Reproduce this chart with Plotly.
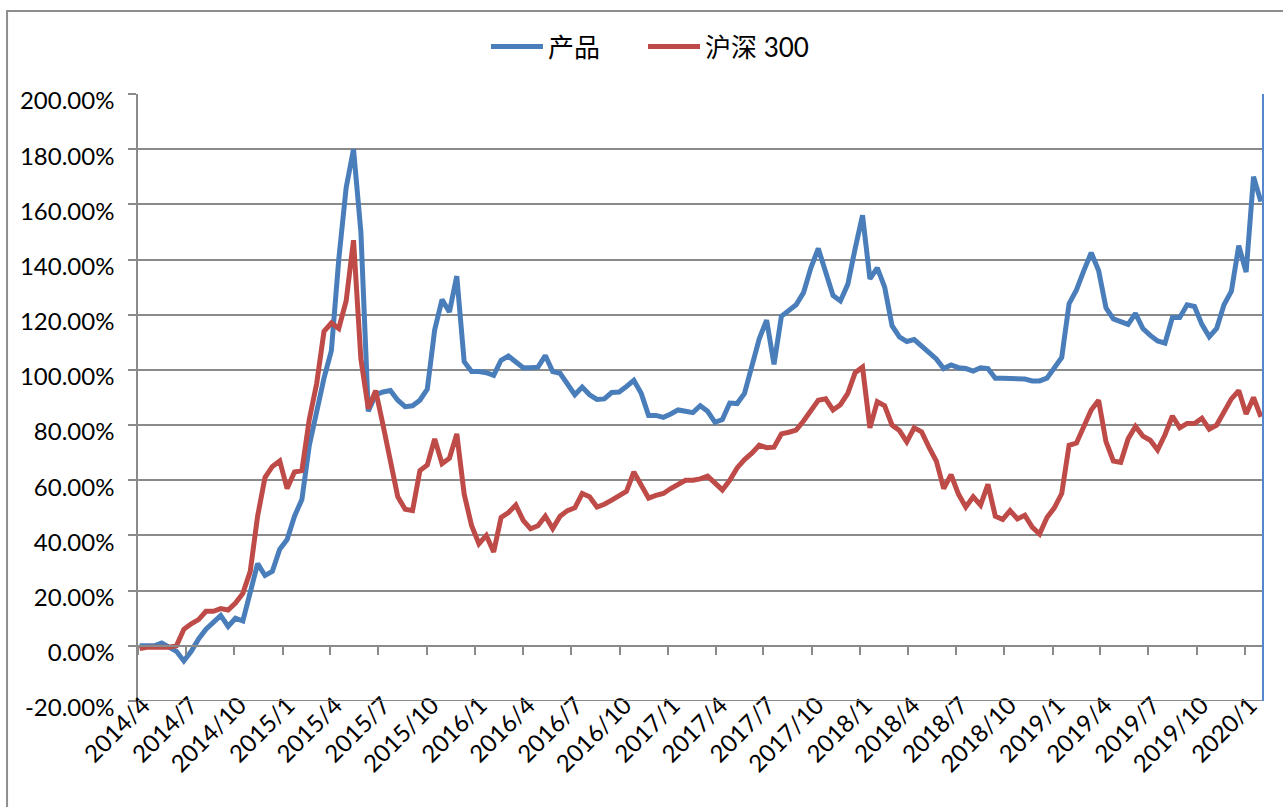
import plotly.graph_objects as go
import pandas as pd

# ---- data (% values, biweekly) ----
start_date = "2014-04-04"
step_days = 14

prod = [0, 0, 0, 1, -0.5, -2, -5.5, -2, 2.5, 6, 8.5, 11, 7, 10, 9, 20, 29.8, 25.5, 27, 35,
        38.5, 47, 53, 72.5, 85, 97, 107, 140, 166, 180, 150, 85, 91, 92, 92.5, 89, 86.7, 87, 89, 93,
        114.5, 125.5, 121, 134, 103, 99.4, 99.4, 99, 98, 103.5, 105, 102.8, 100.8, 100.8, 101, 105.2, 99.4, 98.8, 94.5, 91,
        93.8, 91, 89.3, 89.5, 91.8, 92, 94, 96.2, 91.5, 83.5, 83.5, 82.8, 84, 85.5, 85, 84.5, 87, 85, 81, 82,
        88, 87.8, 91.5, 101, 111.3, 118, 102, 119.4, 121.8, 123.6, 128, 137, 144, 135.5, 127, 125, 131, 144, 156, 133,
        137, 130, 116, 112, 110.3, 111, 108.5, 106.5, 104, 100.5, 101.8, 100.8, 100.5, 99.6, 100.8, 100.5, 97, 97, 97, 96.7,
        96.7, 96, 96, 97, 100.5, 104.5, 124, 129, 136, 142.5, 136, 122.5, 118.5, 117.5, 116.5, 120.5, 115, 112.5, 110.5, 109.7,
        119, 119, 123.6, 123, 116.5, 112, 115, 123.6, 128.5, 145, 135.5, 170, 161]

hs300 = [-1, -0.5, -0.5, -0.5, -0.5, 0, 6, 8, 9.5, 12.5, 12.5, 13.5, 13, 15.5, 19, 27, 47, 61, 65, 67,
         57, 63, 63.5, 82, 95, 114, 117, 115, 125, 147, 104, 86, 92.5, 80, 68, 54, 49.5, 49, 63.5, 65.5,
         75, 66, 68, 76.8, 55, 43.6, 37, 40, 34, 46.5, 48.3, 51, 45.5, 42.4, 43.5, 47, 42.5, 47, 49, 50,
         55.2, 54, 50.3, 51.3, 52.8, 54.3, 56, 63, 58, 53.5, 54.5, 55.2, 57, 58.5, 60, 60, 60.5, 61.5, 58.8, 56.5,
         60, 64.5, 67.5, 69.8, 72.7, 71.8, 72, 76.8, 77.4, 78.2, 81.5, 85, 89, 89.5, 85.5, 87.4, 91.5, 99, 101, 79,
         88.5, 87, 80, 78, 73.9, 79, 77.6, 72, 67, 57, 62, 55, 50.3, 54, 51, 58.5, 47, 45.8, 49, 46,
         47.3, 43, 40.5, 46.5, 50, 55.2, 72.7, 73.5, 79, 85.5, 89, 74, 67, 66.5, 75, 79.5, 76, 74.5, 71, 76.5,
         83.3, 79, 80.6, 80.6, 82.5, 78.5, 80, 84.5, 89.5, 92.5, 84, 90, 83]

series_names = ["产品", "沪深 300"]

tick_dates = ["2014-04-01", "2014-07-01", "2014-10-01", "2015-01-01", "2015-04-01", "2015-07-01",
              "2015-10-01", "2016-01-01", "2016-04-01", "2016-07-01", "2016-10-01", "2017-01-01",
              "2017-04-01", "2017-07-01", "2017-10-01", "2018-01-01", "2018-04-01", "2018-07-01",
              "2018-10-01", "2019-01-01", "2019-04-01", "2019-07-01", "2019-10-01", "2020-01-01"]
tick_labels = ["2014/4", "2014/7", "2014/10", "2015/1", "2015/4", "2015/7", "2015/10", "2016/1",
               "2016/4", "2016/7", "2016/10", "2017/1", "2017/4", "2017/7", "2017/10", "2018/1",
               "2018/4", "2018/7", "2018/10", "2019/1", "2019/4", "2019/7", "2019/10", "2020/1"]
y_ticks = [-20, 0, 20, 40, 60, 80, 100, 120, 140, 160, 180, 200]

dates = pd.date_range(start_date, periods=len(prod), freq=f"{step_days}D")

BLUE = "#4A7EBB"
RED = "#BE4B48"
GRID = "#8a8a8a"
FONT = "Lato, 'Noto Sans CJK SC', sans-serif"

fig = go.Figure()
fig.add_trace(go.Scatter(x=dates, y=prod, name=series_names[0], mode="lines",
                         line=dict(color=BLUE, width=5), legend="legend"))
fig.add_trace(go.Scatter(x=dates, y=hs300, name=series_names[1], mode="lines",
                         line=dict(color=RED, width=5), legend="legend2"))

legend_common = dict(orientation="h", y=1.078, xanchor="left", yanchor="middle",
                     font=dict(size=26), itemwidth=52, bgcolor="rgba(0,0,0,0)")

fig.update_layout(
    width=1283, height=807,
    margin=dict(l=138, r=20, t=94, b=106),
    paper_bgcolor="white", plot_bgcolor="white",
    font=dict(family=FONT, size=24, color="black"),
    showlegend=True,
    legend=dict(x=0.3093, **legend_common),
    legend2=dict(x=0.4489, **legend_common),
    xaxis=dict(type="date", range=["2014-04-01", "2020-02-04"],
               tickvals=tick_dates, ticktext=tick_labels, tickangle=-45,
               showgrid=False, zeroline=False, anchor="free", position=20 / 220,
               showline=True, linecolor=GRID, linewidth=2,
               ticks="outside", ticklen=8, tickcolor=GRID, tickwidth=1.5,
               ticklabelstandoff=27, ticklabelshift=5, tickfont=dict(size=24)),
    yaxis=dict(range=[-20, 200], tickvals=y_ticks,
               ticktext=[f"{v:.2f}%" for v in y_ticks],
               showgrid=True, gridcolor=GRID, gridwidth=1.5, zeroline=False,
               showline=True, linecolor=GRID, linewidth=1.5,
               ticks="outside", ticklen=8, tickcolor=GRID, tickwidth=1.5,
               ticklabelstandoff=9, ticklabelshift=7, tickfont=dict(size=24)),
    shapes=[
        dict(type="line", xref="paper", yref="y", x0=0, x1=1, y0=-20, y1=-20,
             line=dict(color=GRID, width=2)),
        dict(type="line", xref="paper", yref="paper", x0=1, x1=1, y0=0, y1=1,
             line=dict(color="#5487cc", width=2)),
        dict(type="rect", xref="paper", yref="paper", x0=-0.1164, x1=1.1, y0=-0.3, y1=1.1367,
             line=dict(color="#8e8e8e", width=2), fillcolor="rgba(0,0,0,0)", layer="below"),
    ],
)

fig.write_html("out.html", config={"displayModeBar": False},
               post_script="document.body.style.margin='0';")
